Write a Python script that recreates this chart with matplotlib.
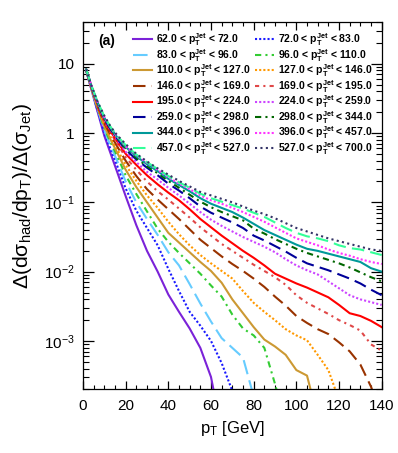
import numpy as np
import matplotlib
matplotlib.use("Agg")
import matplotlib.pyplot as plt
from matplotlib.ticker import FixedLocator, FuncFormatter, LogLocator, MultipleLocator

plt.rcParams["font.family"] = ["Liberation Sans", "DejaVu Sans"]
plt.rcParams["mathtext.fontset"] = "custom"
plt.rcParams["mathtext.rm"] = "Liberation Sans"
plt.rcParams["mathtext.it"] = "Liberation Sans:italic"
plt.rcParams["mathtext.bf"] = "Liberation Sans:bold"

# pT grid (GeV) and log10 of the ratio
pt = [1.5, 4, 7, 10, 13, 16, 20, 25, 30, 35, 40, 45, 50, 55, 60, 65, 70, 75, 80,
      85, 90, 95, 100, 105, 110, 115, 120, 125, 130, 135, 140]

log_62_72 = [0.90, 0.62, 0.29, -0.04, -0.30, -0.56, -0.91, -1.33, -1.70, -2.00, -2.33,
             -2.58, -2.82, -3.10, -3.52, -4.30]
log_72_83 = [0.90, 0.63, 0.31, 0.00, -0.24, -0.47, -0.80, -1.12, -1.37, -1.62, -1.96,
             -2.28, -2.58, -2.78, -3.00, -3.32, -3.72, -4.20]
log_83_96 = [0.90, 0.63, 0.33, 0.04, -0.19, -0.40, -0.70, -1.00, -1.24, -1.47, -1.72,
             -1.91, -2.18, -2.46, -2.72, -2.96, -3.10, -3.24, -3.80]
log_96_110 = [0.91, 0.64, 0.34, 0.07, -0.14, -0.33, -0.61, -0.88, -1.13, -1.38, -1.57,
              -1.73, -1.88, -2.03, -2.20, -2.36, -2.62, -2.82, -2.92, -3.10, -3.62, -4.20]
log_110_127 = [0.91, 0.64, 0.35, 0.10, -0.10, -0.28, -0.53, -0.78, -1.00, -1.22, -1.44,
               -1.58, -1.72, -1.86, -1.99, -2.16, -2.40, -2.60, -2.80, -2.98, -3.08,
               -3.20, -3.42, -3.50, -4.10]
log_127_146 = [0.91, 0.65, 0.37, 0.12, -0.06, -0.23, -0.46, -0.69, -0.90, -1.08, -1.28,
               -1.46, -1.62, -1.76, -1.88, -1.99, -2.10, -2.28, -2.45, -2.58, -2.70,
               -2.83, -2.92, -2.99, -3.20, -3.42, -3.85]
log_146_169 = [0.91, 0.65, 0.38, 0.14, -0.03, -0.19, -0.40, -0.62, -0.81, -0.96, -1.10,
               -1.24, -1.39, -1.54, -1.66, -1.78, -1.89, -1.99, -2.10, -2.22, -2.36,
               -2.49, -2.64, -2.74, -2.83, -2.90, -3.02, -3.15, -3.34, -3.66, -4.10]
log_169_195 = [0.92, 0.66, 0.39, 0.16, 0.00, -0.15, -0.35, -0.53, -0.70, -0.84, -0.96,
               -1.09, -1.22, -1.36, -1.48, -1.60, -1.70, -1.80, -1.90, -1.99, -2.08,
               -2.19, -2.34, -2.45, -2.53, -2.61, -2.70, -2.77, -2.85, -3.05, -3.14]
log_195_224 = [0.92, 0.66, 0.40, 0.18, 0.02, -0.12, -0.30, -0.46, -0.61, -0.74, -0.86,
               -0.97, -1.10, -1.24, -1.36, -1.48, -1.59, -1.70, -1.80, -1.91, -2.03,
               -2.10, -2.17, -2.23, -2.30, -2.37, -2.48, -2.60, -2.64, -2.71, -2.80]
log_224_259 = [0.92, 0.66, 0.41, 0.19, 0.04, -0.10, -0.27, -0.42, -0.56, -0.67, -0.79,
               -0.90, -1.02, -1.14, -1.25, -1.34, -1.42, -1.50, -1.57, -1.64, -1.72,
               -1.82, -1.91, -1.98, -2.04, -2.14, -2.24, -2.34, -2.40, -2.44, -2.48]
log_259_298 = [0.92, 0.67, 0.42, 0.20, 0.05, -0.08, -0.24, -0.38, -0.50, -0.61, -0.73,
               -0.83, -0.94, -1.06, -1.15, -1.22, -1.29, -1.37, -1.48, -1.55, -1.63,
               -1.71, -1.80, -1.88, -1.93, -1.98, -2.04, -2.10, -2.17, -2.26, -2.34]
log_298_344 = [0.92, 0.67, 0.42, 0.21, 0.06, -0.07, -0.22, -0.36, -0.48, -0.58, -0.69,
               -0.79, -0.89, -0.99, -1.07, -1.14, -1.20, -1.26, -1.38, -1.45, -1.53,
               -1.60, -1.67, -1.73, -1.78, -1.83, -1.88, -1.94, -2.01, -2.08, -2.14]
log_344_396 = [0.92, 0.67, 0.43, 0.22, 0.07, -0.06, -0.20, -0.335, -0.45, -0.55, -0.66,
               -0.75, -0.84, -0.94, -1.02, -1.08, -1.14, -1.22, -1.31, -1.40, -1.47,
               -1.54, -1.61, -1.67, -1.70, -1.74, -1.78, -1.82, -1.86, -1.95, -2.00]
log_396_457 = [0.92, 0.68, 0.43, 0.23, 0.08, -0.05, -0.19, -0.32, -0.43, -0.53, -0.64,
               -0.73, -0.81, -0.90, -0.97, -1.02, -1.08, -1.14, -1.21, -1.28, -1.36,
               -1.44, -1.52, -1.57, -1.62, -1.68, -1.73, -1.77, -1.82, -1.86, -1.89]
log_457_527 = [0.92, 0.68, 0.44, 0.24, 0.085, -0.04, -0.175, -0.31, -0.42, -0.52, -0.62,
               -0.71, -0.79, -0.875, -0.94, -0.99, -1.04, -1.09, -1.15, -1.21, -1.29,
               -1.37, -1.44, -1.49, -1.52, -1.56, -1.62, -1.66, -1.68, -1.72, -1.76]
log_527_700 = [0.92, 0.68, 0.44, 0.25, 0.09, -0.03, -0.16, -0.30, -0.41, -0.51, -0.60,
               -0.69, -0.77, -0.85, -0.90, -0.95, -1.00, -1.06, -1.12, -1.17, -1.23,
               -1.30, -1.37, -1.42, -1.47, -1.52, -1.56, -1.60, -1.64, -1.68, -1.70]

bins = ["62.0", "72.0", "83.0", "96.0", "110.0", "127.0", "146.0", "169.0", "195.0",
        "224.0", "259.0", "298.0", "344.0", "396.0", "457.0", "527.0", "700.0"]

series = [log_62_72, log_72_83, log_83_96, log_96_110, log_110_127, log_127_146,
          log_146_169, log_169_195, log_195_224, log_224_259, log_259_298,
          log_298_344, log_344_396, log_396_457, log_457_527, log_527_700]

colors = ["#7b22d8", "#1a1aff", "#66ccff", "#33cc33", "#cc9933", "#ff9900",
          "#993300", "#e04848", "#ff0000", "#cc44ff", "#000099", "#006600",
          "#009999", "#ff33ff", "#33ff99", "#333366"]
styles = ["-", (0, (1, 1)), (0, (7, 3)), (0, (3, 2, 1, 2)), "-", (0, (1, 1)),
          (0, (6, 3)), (0, (2, 2, 1, 2)), "-", (0, (1, 1)), (0, (6, 3)),
          (0, (3, 2, 1, 2)), "-", (0, (1, 1)), (0, (6, 3)), (0, (1, 1.6))]

fig = plt.figure(figsize=(3.98, 4.53), dpi=100)
ax = fig.add_axes([0.2085, 0.1404, 0.7505, 0.811])

handles = []
for i, logs in enumerate(series):
    x = pt[:len(logs)]
    y = 10.0 ** np.array(logs)
    label = f"{bins[i]} < p$_{{\\mathbf{{T}}}}^{{\\mathbf{{Jet}}}}$ < {bins[i + 1]}"
    h, = ax.plot(x, y, color=colors[i], linestyle=styles[i], lw=1.5, label=label)
    handles.append(h)

ax.set_yscale("log")
ax.set_xlim(0, 140)
ax.set_ylim(2e-4, 40)

ax.xaxis.set_major_locator(MultipleLocator(20))
ax.xaxis.set_minor_locator(MultipleLocator(5))
ax.yaxis.set_major_locator(FixedLocator([1e-3, 1e-2, 1e-1, 1, 10]))
ax.yaxis.set_minor_locator(LogLocator(base=10, subs=np.arange(2, 10)))


def ylab(v, pos):
    if v == 10:
        return "10"
    if v == 1:
        return "1"
    return "$10^{%d}$" % int(round(np.log10(v)))


ax.yaxis.set_major_formatter(FuncFormatter(ylab))
ax.yaxis.set_minor_formatter(FuncFormatter(lambda v, p: ""))
ax.tick_params(which="both", direction="in", top=True, right=True, labelsize=11)
ax.tick_params(axis="y", which="major", length=8, width=0.9, pad=6)
ax.tick_params(axis="y", which="minor", length=4, width=0.8)
ax.tick_params(axis="x", which="major", length=6, width=0.9, pad=7)
ax.tick_params(axis="x", which="minor", length=3, width=0.8)
for s in ax.spines.values():
    s.set_linewidth(0.9)

ax.set_xlabel("p$_{\\mathrm{T}}$ [GeV]", fontsize=12, labelpad=4)
ax.set_ylabel("Δ(dσ$_{\\mathrm{had}}$/dp$_{\\mathrm{T}}$)/Δ(σ$_{\\mathrm{Jet}}$)",
              fontsize=15.2)
ax.yaxis.set_label_coords(-0.165, 0.525)

ax.text(0.05, 0.968, "(a)", transform=ax.transAxes, fontsize=10, fontweight="bold",
        va="top", ha="left")

order = [0, 2, 4, 6, 8, 10, 12, 14, 1, 3, 5, 7, 9, 11, 13, 15]
leg = ax.legend([handles[k] for k in order], [handles[k].get_label() for k in order],
                ncol=2, frameon=False, loc="upper left", bbox_to_anchor=(0.168, 0.975),
                borderaxespad=0, borderpad=0,
                prop={"weight": "bold", "size": 7.5}, handlelength=1.8,
                handletextpad=0.4, columnspacing=0.45, labelspacing=-0.12)

fig.savefig("out.png", dpi=100)
